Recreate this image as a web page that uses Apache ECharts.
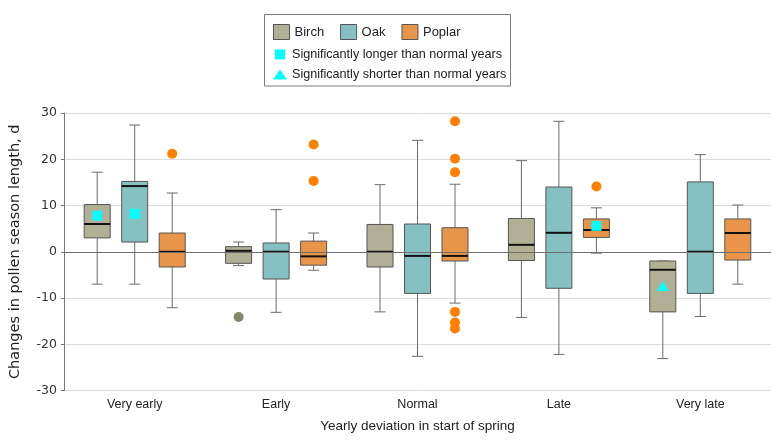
<!DOCTYPE html>
<html>
<head>
<meta charset="utf-8">
<script src="https://cdn.jsdelivr.net/npm/echarts@6/dist/echarts.min.js"></script>
<style>
html,body{margin:0;padding:0;background:#fff;}
#chart{width:780px;height:445px;}
</style>
</head>
<body>
<div id="chart"></div>
<script>
// ---- data ----
const categories = ['Very early', 'Early', 'Normal', 'Late', 'Very late'];
const yTicks = [-30, -20, -10, 0, 10, 20, 30];
// [min, q1, median, q3, max]
const birch = [
  [-7, 3, 6, 10.2, 17.2],
  [-3, -2.5, 0.2, 1.1, 2.1],
  [-13, -3.3, 0, 5.9, 14.5],
  [-14.2, -1.9, 1.5, 7.2, 19.7],
  [-23.1, -13, -3.9, -2, -2]
];
const oak = [
  [-7, 2.1, 14.2, 15.2, 27.4],
  [-13.1, -5.9, 0, 1.9, 9.1],
  [-22.6, -9, -0.9, 6, 24.1],
  [-22.2, -7.9, 4.1, 14, 28.2],
  [-14, -9, 0, 15.1, 21]
];
const poplar = [
  [-12.1, -3.3, 0, 4.05, 12.7],
  [-4, -2.9, -1, 2.3, 4.05],
  [-11.1, -2, -0.9, 5.2, 14.6],
  [-0.3, 3.1, 4.7, 7.1, 9.5],
  [-7, -1.8, 4.05, 7.1, 10.1]
];
// outliers: [category index, value]
const birchOutliers = [[1, -14.1]];
const poplarOutliers = [[0, 21.2], [1, 23.2], [1, 15.3], [2, 28.2], [2, 20.1], [2, 17.2], [2, -13], [2, -15.3], [2, -16.6], [3, 14.1]];
// significance markers: [category index, species index, value]
const longerMarkers = [[0, 0, 7.8], [0, 1, 8.2], [3, 2, 5.6]];
const shorterMarkers = [[4, 0, -7.4]];
const speciesNames = ['Birch', 'Oak', 'Poplar'];
const markerNames = ['Significantly longer than normal years', 'Significantly shorter than normal years'];

// ---- styles ----
const speciesColors = ['#b1b096', '#85c1c1', '#e8954a'];
const speciesOffsetPx = [-37.5, 0, 37.5];
const BOX_W = 26, CAP_W = 11;

function makeRender(si) {
  return function (params, api) {
    const ci = api.value(0);
    const cx = api.coord([ci, 0])[0] + speciesOffsetPx[si];
    const y = k => api.coord([ci, api.value(k)])[1];
    const yMin = y(1), yQ1 = y(2), yMed = y(3), yQ3 = y(4), yMax = y(5);
    const ws = { stroke: '#6a6a6a', lineWidth: 1 };
    return {
      type: 'group',
      children: [
        { type: 'line', shape: { x1: cx, y1: yMax, x2: cx, y2: yQ3 }, style: ws },
        { type: 'line', shape: { x1: cx, y1: yQ1, x2: cx, y2: yMin }, style: ws },
        { type: 'line', shape: { x1: cx - CAP_W / 2, y1: yMax, x2: cx + CAP_W / 2, y2: yMax }, style: ws },
        { type: 'line', shape: { x1: cx - CAP_W / 2, y1: yMin, x2: cx + CAP_W / 2, y2: yMin }, style: ws },
        { type: 'rect', shape: { x: cx - BOX_W / 2, y: yQ3, width: BOX_W, height: yQ1 - yQ3 },
          style: { fill: speciesColors[si], stroke: '#555', lineWidth: 1 } },
        { type: 'line', shape: { x1: cx - BOX_W / 2, y1: yMed, x2: cx + BOX_W / 2, y2: yMed },
          style: { stroke: '#111', lineWidth: 2 } }
      ]
    };
  };
}

const boxSets = [birch, oak, poplar];
const boxSeries = boxSets.map((set, si) => ({
  name: speciesNames[si],
  type: 'custom',
  z: 3,
  itemStyle: { color: speciesColors[si], borderColor: '#555' },
  renderItem: makeRender(si),
  encode: { x: 0, y: [1, 2, 3, 4, 5] },
  data: set.map((v, ci) => [ci].concat(v))
}));

const chart = echarts.init(document.getElementById('chart'));
const option = {
  animation: false,
  backgroundColor: '#fff',
  grid: { left: 61, right: 9, top: 113, bottom: 54.5 },
  graphic: [{
    type: 'rect',
    shape: { x: 264.5, y: 14.5, width: 246, height: 71.5 },
    style: { fill: 'none', stroke: '#7a7a7a', lineWidth: 1 }
  }],
  legend: [{
    left: 273, top: 24, orient: 'horizontal', padding: 0,
    itemWidth: 16, itemHeight: 15, itemGap: 16,
    textStyle: { fontFamily: 'Liberation Sans', fontSize: 13, color: '#222' },
    data: speciesNames.map((n, i) => ({ name: n, icon: 'rect',
      itemStyle: { color: speciesColors[i], borderColor: '#555', borderWidth: 1 } }))
  }, {
    left: 273, top: 48, orient: 'vertical', padding: 0,
    itemWidth: 14, itemHeight: 10, itemGap: 7,
    textStyle: { fontFamily: 'Liberation Sans', fontSize: 12.6, color: '#222' },
    data: [
      { name: markerNames[0], icon: 'path://M0,0L1,0L1,1L0,1Z', itemStyle: { color: '#00ffff', opacity: 1 } },
      { name: markerNames[1], icon: 'triangle', itemStyle: { color: '#00ffff', opacity: 1 } }
    ]
  }],
  xAxis: {
    type: 'category',
    data: categories,
    boundaryGap: true,
    name: 'Yearly deviation in start of spring',
    nameLocation: 'middle',
    nameGap: 29,
    nameTextStyle: { fontFamily: 'Liberation Sans', fontSize: 13.5, color: '#222' },
    axisLine: { lineStyle: { color: '#777' } },
    axisTick: { alignWithLabel: true, length: 4, lineStyle: { color: '#777' } },
    axisLabel: { fontFamily: 'Liberation Sans', fontSize: 12.5, color: '#222', margin: 8 },
    splitLine: { show: false }
  },
  yAxis: {
    type: 'value',
    min: yTicks[0], max: yTicks[yTicks.length - 1], interval: 10,
    name: 'Changes in pollen season length, d',
    nameLocation: 'middle',
    nameGap: 41,
    nameTextStyle: { fontFamily: 'DejaVu Sans', fontSize: 14.5, color: '#222' },
    axisLine: { show: true, lineStyle: { color: '#777' } },
    axisTick: { show: true, length: 3, lineStyle: { color: '#777' } },
    axisLabel: { fontFamily: 'DejaVu Sans', fontSize: 12.5, color: '#333', margin: 7 },
    splitLine: { show: true, lineStyle: { color: '#dcdcdc', width: 1 } }
  },
  series: [
    {
      name: 'zero', type: 'scatter', data: [], z: 1, silent: true,
      markLine: {
        silent: true, symbol: 'none', label: { show: false },
        lineStyle: { color: '#6e6e6e', type: 'solid', width: 1 },
        data: [{ yAxis: 0 }]
      }
    }
  ].concat(boxSeries).concat([
    {
      name: 'Birch outliers', type: 'scatter', z: 4,
      symbol: 'circle', symbolSize: 10, symbolOffset: [speciesOffsetPx[0], 0],
      itemStyle: { color: '#86866f', opacity: 1 },
      data: birchOutliers
    },
    {
      name: 'Poplar outliers', type: 'scatter', z: 4,
      symbol: 'circle', symbolSize: 10, symbolOffset: [speciesOffsetPx[2], 0],
      itemStyle: { color: '#ff8000', opacity: 1 },
      data: poplarOutliers
    },
    {
      name: markerNames[0], type: 'scatter', z: 5,
      symbol: 'rect', symbolSize: 10,
      itemStyle: { color: '#00ffff', opacity: 1 },
      data: longerMarkers.map(m => ({ value: [m[0], m[2]], symbolOffset: [speciesOffsetPx[m[1]], 0] }))
    },
    {
      name: markerNames[1], type: 'scatter', z: 5,
      symbol: 'triangle', symbolSize: [12, 10],
      itemStyle: { color: '#00ffff', opacity: 1 },
      data: shorterMarkers.map(m => ({ value: [m[0], m[2]], symbolOffset: [speciesOffsetPx[m[1]], 0] }))
    }
  ])
};
chart.setOption(option);
</script>
</body>
</html>
